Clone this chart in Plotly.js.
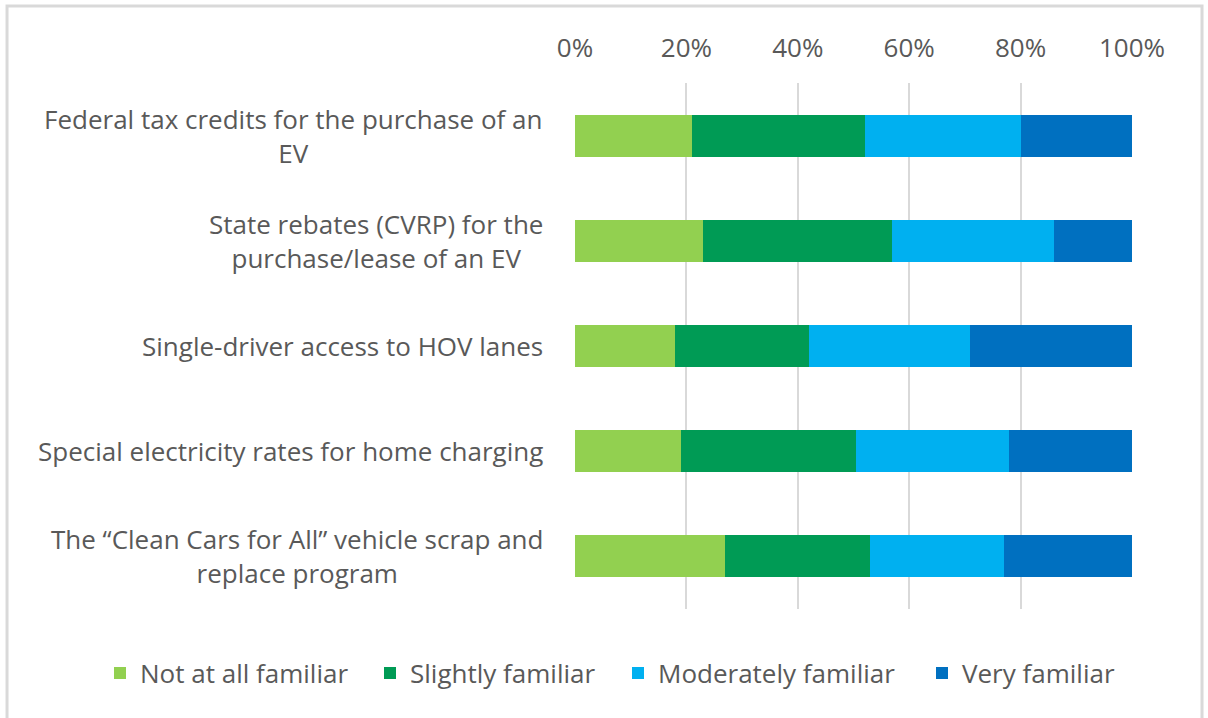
<!DOCTYPE html>
<html>
<head>
<meta charset="utf-8">
<script src="https://cdn.plot.ly/plotly-3.0.1.min.js"></script>
<style>
html, body { margin: 0; padding: 0; background: #ffffff; }
#chart { width: 1208px; height: 718px; }
</style>
</head>
<body>
<div id="chart"></div>
<script>
const categories = [
  "Federal tax credits for the purchase of an<br>EV",
  "State rebates (CVRP) for the<br>purchase/lease of an EV",
  "Single-driver access to HOV lanes",
  "Special electricity rates for home charging",
  "The \u201cClean Cars for All\u201d vehicle scrap and<br>replace program"
];
const seriesNames = ["Not at all familiar", "Slightly familiar", "Moderately familiar", "Very familiar"];
const notAtAllFamiliar = [21, 23, 18, 19, 27];
const slightlyFamiliar = [31, 34, 24, 31.5, 26];
const moderatelyFamiliar = [28, 29, 29, 27.5, 24];
const veryFamiliar = [20, 14, 29, 22, 23];
const tickVals = [0, 20, 40, 60, 80, 100];
const tickText = ["0%", "20%", "40%", "60%", "80%", "100%"];

const colors = ["#92D050", "#009B55", "#00B0F0", "#0070C0"];
const seriesValues = [notAtAllFamiliar, slightlyFamiliar, moderatelyFamiliar, veryFamiliar];
const legendIds = ["legend", "legend2", "legend3", "legend4"];
const legendLeftPx = [100, 370, 618, 922];

const traces = seriesValues.map((vals, i) => ({
  type: "bar",
  orientation: "h",
  name: seriesNames[i],
  x: vals,
  y: categories,
  legend: legendIds[i],
  marker: { color: colors[i], line: { width: 0 } },
  hoverinfo: "x+name"
}));

const fontFam = "'Open Sans', 'DejaVu Sans', sans-serif";
const textColor = "#595959";
const W = 1208, H = 718;

const labelAnnotations = categories.map(c => ({
  xref: "paper", yref: "y",
  x: 0, y: c,
  xanchor: "right", yanchor: "middle",
  xshift: -30,
  text: c,
  align: "center",
  showarrow: false,
  font: { family: fontFam, size: 26, color: textColor }
}));

const layout = {
  width: W,
  height: H,
  barmode: "stack",
  bargap: 0.6,
  paper_bgcolor: "#ffffff",
  plot_bgcolor: "#ffffff",
  margin: { l: 575, r: 76, t: 83, b: 109, pad: 0 },
  font: { family: fontFam, color: textColor, size: 26 },
  xaxis: {
    side: "top",
    range: [0, 100],
    tickvals: tickVals,
    ticktext: tickText,
    showgrid: true,
    gridcolor: "#d9d9d9",
    gridwidth: 2,
    zeroline: false,
    showline: false,
    ticks: "",
    ticklabelstandoff: 20,
    tickfont: { size: 26, color: textColor },
    fixedrange: true
  },
  yaxis: {
    autorange: "reversed",
    showgrid: false,
    zeroline: false,
    showline: false,
    ticks: "",
    showticklabels: false,
    fixedrange: true
  },
  annotations: labelAnnotations,
  showlegend: true,
  shapes: [{
    type: "rect",
    xref: "paper", yref: "paper",
    x0: -1.0197, x1: 1.1257, y0: -0.25, y1: 1.1464,
    line: { color: "#d9d9d9", width: 3 },
    fillcolor: "rgba(0,0,0,0)",
    layer: "below"
  }]
};

legendIds.forEach((id, i) => {
  layout[id] = {
    orientation: "h",
    xref: "container",
    yref: "container",
    x: legendLeftPx[i] / W,
    xanchor: "left",
    y: 1 - 673 / H,
    yanchor: "middle",
    bgcolor: "rgba(0,0,0,0)",
    borderwidth: 0,
    font: { family: fontFam, size: 26, color: textColor },
    itemwidth: 30,
    itemclick: false
  };
});

Plotly.newPlot("chart", traces, layout, { displayModeBar: false, staticPlot: true });
</script>
</body>
</html>
